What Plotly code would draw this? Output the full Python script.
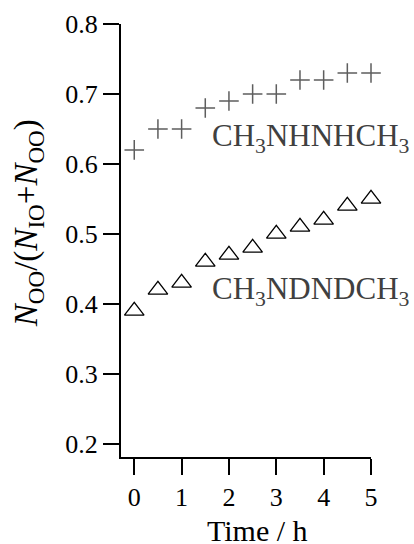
import plotly.graph_objects as go

time_h = [0, 0.5, 1, 1.5, 2, 2.5, 3, 3.5, 4, 4.5, 5]
ch3nhnhch3 = [0.62, 0.65, 0.65, 0.68, 0.69, 0.70, 0.70, 0.72, 0.72, 0.73, 0.73]
ch3ndndch3 = [0.39, 0.42, 0.43, 0.46, 0.47, 0.48, 0.50, 0.51, 0.52, 0.54, 0.55]
x_ticks = [0, 1, 2, 3, 4, 5]
y_ticks = [0.2, 0.3, 0.4, 0.5, 0.6, 0.7, 0.8]

FONT = "Liberation Serif"

fig = go.Figure()
fig.add_trace(go.Scatter(
    x=time_h, y=ch3nhnhch3, mode="markers",
    marker=dict(symbol="cross-thin-open", size=14, color="#5e5e5e",
                line=dict(color="#5e5e5e", width=1.5)),
    showlegend=False, cliponaxis=False))
fig.add_trace(go.Scatter(
    x=time_h, y=ch3ndndch3, mode="markers",
    marker=dict(symbol="triangle-up-open", size=17, color="black",
                line=dict(color="black", width=1.3)),
    showlegend=False, cliponaxis=False))

fig.add_annotation(x=1.6, y=0.637, xref="x", yref="y", xanchor="left", yanchor="middle",
                   text="CH<sub>3</sub>NHNHCH<sub>3</sub>", showarrow=False,
                   font=dict(family=FONT, size=31, color="#404040"))
fig.add_annotation(x=1.6, y=0.419, xref="x", yref="y", xanchor="left", yanchor="middle",
                   text="CH<sub>3</sub>NDNDCH<sub>3</sub>", showarrow=False,
                   font=dict(family=FONT, size=31, color="#404040"))
# axis titles as annotations (positions as in the reference)
fig.add_annotation(x=-0.372, y=0.54, xref="paper", yref="paper", xanchor="center", yanchor="middle",
                   textangle=-90, showarrow=False,
                   text="<i>N</i><sub>OO</sub>/(<i>N</i><sub>IO</sub>+<i>N</i><sub>OO</sub>)",
                   font=dict(family=FONT, size=33, color="black"))
fig.add_annotation(x=0.544, y=-0.170, xref="paper", yref="paper", xanchor="center", yanchor="middle",
                   showarrow=False, text="Time / h",
                   font=dict(family=FONT, size=30, color="black"))

fig.update_layout(
    width=414, height=544,
    margin=dict(l=121, r=43, t=24, b=87, autoexpand=False),
    paper_bgcolor="white", plot_bgcolor="white",
    font=dict(family=FONT, color="black"),
)
fig.update_xaxes(
    range=[-0.28, 5], tickvals=x_ticks, ticktext=[str(v) for v in x_ticks],
    showgrid=False, zeroline=False, showline=True, linecolor="black", linewidth=2,
    ticks="outside", ticklen=16, tickwidth=2, tickcolor="black",
    tickfont=dict(family=FONT, size=26, color="black"),
    automargin=False,
)
fig.update_yaxes(
    range=[0.181, 0.8], tickvals=y_ticks, ticktext=[f"{v:.1f}" for v in y_ticks],
    showgrid=False, zeroline=False, showline=True, linecolor="black", linewidth=2,
    ticks="outside", ticklen=16, tickwidth=2, tickcolor="black",
    tickfont=dict(family=FONT, size=26, color="black"),
    automargin=False,
)

fig.write_html("out.html", config={"displayModeBar": False},
               post_script="document.body.style.margin='0';document.body.style.padding='0';")
